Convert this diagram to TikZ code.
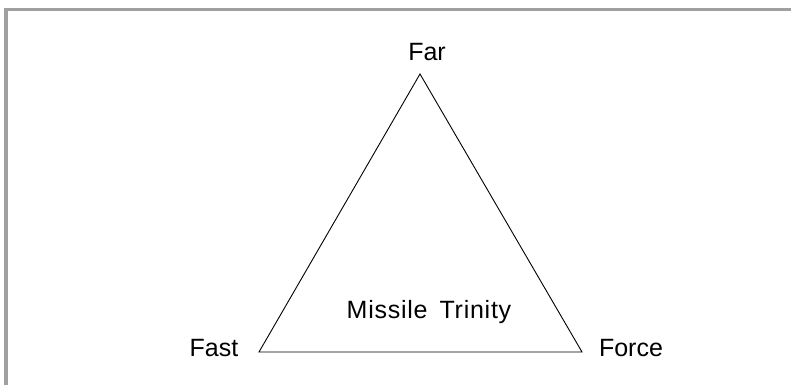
\documentclass[tikz,border=0pt]{standalone}
\usepackage{fontspec}
\setmainfont{Liberation Sans}
\definecolor{framegray}{RGB}{160,160,160}
\begin{document}
\begin{tikzpicture}[x=1pt,y=1pt,
  lbl/.style={anchor=base,inner sep=0pt,font=\fontsize{25}{30}\selectfont},
  frameline/.style={draw=framegray,line width=3.5pt},
  edge/.style={draw=black,line width=0.9pt,line join=miter}]
\useasboundingbox (0,0) rectangle (791,385);
\fill[white] (0,0) rectangle (791,385);
% frame (top and left only)
\coordinate (fTL) at (6,375.5);
\coordinate (fTR) at (791,375.5);
\coordinate (fBL) at (6,0);
\draw[frameline] (fBL) -- (6,377.25);
\draw[frameline] (4.25,375.5) -- (fTR);
% triangle
\coordinate (apex) at (420,311);
\coordinate (left) at (259,33);
\coordinate (right) at (582,33);
\draw[edge] (apex) -- (left) -- (right) -- cycle;
% labels
\node[lbl] (far) at (427,324) {Far};
\node[lbl] (fast) at (214,29) {Fast};
\node[lbl] (force) at (631,29) {Force};
\node[lbl] (title) at (429,66) {\addfontfeature{LetterSpace=3}Missile\hspace{12pt}Trinity};
\end{tikzpicture}
\end{document}
